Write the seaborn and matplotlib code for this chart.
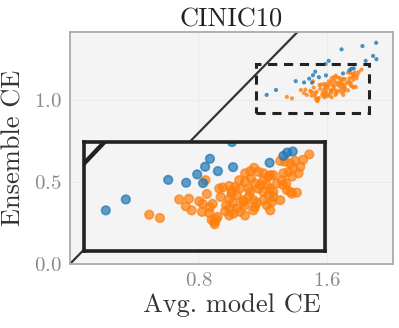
import pandas as pd
import matplotlib.pyplot as plt
import seaborn as sns
from matplotlib.patches import Rectangle

# data (avg model CE, ensemble CE)
orange_x = [1.350, 1.381, 1.437, 1.465, 1.456, 1.473, 1.495, 1.505, 1.503, 1.513,
            1.517, 1.526, 1.534, 1.524, 1.531, 1.538, 1.544, 1.540, 1.548, 1.553,
            1.563, 1.557, 1.573, 1.570, 1.582, 1.589, 1.582, 1.584, 1.582, 1.594,
            1.654, 1.643, 1.628, 1.667, 1.681, 1.611, 1.599, 1.589, 1.628, 1.645,
            1.657, 1.638, 1.681, 1.696, 1.710, 1.691, 1.720, 1.735, 1.739, 1.730,
            1.744, 1.759, 1.773, 1.768, 1.788, 1.783, 1.764, 1.754, 1.814, 1.796,
            1.747, 1.738, 1.749, 1.759, 1.778, 1.764, 1.604, 1.623, 1.638, 1.652,
            1.628, 1.657, 1.662, 1.681, 1.696, 1.706, 1.710, 1.730, 1.691, 1.604,
            1.613, 1.594, 1.628, 1.652, 1.681, 1.667, 1.701, 1.710, 1.623, 1.701,
            1.672, 1.643, 1.613, 1.701]
orange_y = [1.020, 1.011, 1.062, 1.064, 1.043, 1.032, 1.057, 1.050, 1.028, 1.115,
            1.077, 1.041, 1.050, 1.025, 1.006, 1.000, 1.007, 0.994, 1.014, 1.092,
            1.095, 1.069, 1.046, 1.030, 1.099, 1.078, 1.064, 1.039, 1.018, 1.053,
            1.149, 1.140, 1.134, 1.138, 1.134, 1.115, 1.097, 1.085, 1.111, 1.120,
            1.106, 1.092, 1.115, 1.125, 1.129, 1.102, 1.106, 1.115, 1.134, 1.168,
            1.166, 1.161, 1.168, 1.148, 1.152, 1.134, 1.125, 1.138, 1.186, 1.171,
            1.106, 1.102, 1.088, 1.083, 1.081, 1.078, 1.074, 1.060, 1.069, 1.060,
            1.046, 1.041, 1.053, 1.060, 1.074, 1.055, 1.069, 1.060, 1.046, 1.037,
            1.028, 1.023, 1.018, 1.032, 1.083, 1.092, 1.092, 1.083, 1.055, 1.129,
            1.102, 1.083, 1.092, 1.032]
blue_x = [1.224, 1.282, 1.405, 1.457, 1.489, 1.512, 1.526, 1.506, 1.549, 1.593,
          1.699, 1.739, 1.750, 1.766, 1.590, 1.610, 1.690, 1.820, 1.840, 1.886,
          1.907, 1.905]
blue_y = [1.032, 1.062, 1.116, 1.108, 1.131, 1.152, 1.174, 1.107, 1.140, 1.151,
          1.163, 1.182, 1.191, 1.194, 1.220, 1.240, 1.310, 1.330, 1.240, 1.270,
          1.250, 1.350]

zoom_x = (1.16, 1.86)
zoom_y = (0.92, 1.22)

df = pd.concat([
    pd.DataFrame({'x': orange_x, 'y': orange_y, 'grp': 'b'}),
    pd.DataFrame({'x': blue_x, 'y': blue_y, 'grp': 'a'}),
], ignore_index=True)
pal = {'a': '#1f77b4', 'b': '#ff7f0e'}

sns.set_theme(style='whitegrid', rc={
    'axes.facecolor': '#f4f4f4', 'grid.color': '#ebebeb', 'grid.linewidth': 0.8,
    'axes.edgecolor': '#aaaaaa', 'axes.linewidth': 1.3,
})
plt.rcParams['font.family'] = 'serif'
plt.rcParams['font.serif'] = ['cmr10']
plt.rcParams['axes.formatter.use_mathtext'] = True

fig = plt.figure(figsize=(3.99, 3.28), dpi=100)
ax = fig.add_axes([0.175, 0.195, 0.81, 0.707])

sns.scatterplot(data=df, x='x', y='y', hue='grp', palette=pal, s=9,
                alpha=0.8, linewidth=0, legend=False, ax=ax)
ax.plot([0, 2.1], [0, 2.1], color='#333333', lw=1.6, zorder=1)
ax.add_patch(Rectangle((zoom_x[0], zoom_y[0]), zoom_x[1] - zoom_x[0], zoom_y[1] - zoom_y[0],
                       fill=False, ls=(0, (3, 2.2)), lw=2.2, ec='#222222', zorder=3))
ax.set_xlim(0, 2.01)
ax.set_ylim(0, 1.415)
ax.set_xticks([0.8, 1.6])
ax.set_yticks([0.0, 0.5, 1.0])
ax.tick_params(labelsize=15, labelcolor='#8a8a8a', length=0, pad=6)
ax.set_xlabel('Avg. model CE', fontsize=19, color='#333333', labelpad=2)
ax.set_ylabel('Ensemble CE', fontsize=19, color='#333333', labelpad=6)
ax.set_title('CINIC10', fontsize=19, color='#222222', pad=4)

# zoomed inset
axin = ax.inset_axes([0.043, 0.056, 0.747, 0.47])
sns.scatterplot(data=df, x='x', y='y', hue='grp', palette=pal, s=38,
                alpha=0.7, linewidth=1.2, edgecolor=None, legend=False, ax=axin)
axin.plot([0, 2.1], [0, 2.1], color='#222222', lw=3.2, zorder=1)
axin.set_xlim(*zoom_x)
axin.set_ylim(*zoom_y)
axin.set_xticks([])
axin.set_yticks([])
axin.set_xlabel('')
axin.set_ylabel('')
axin.set_facecolor('#f4f4f4')
for sp in axin.spines.values():
    sp.set_color('#222222')
    sp.set_linewidth(2.6)

fig.savefig('out.png', dpi=100)
